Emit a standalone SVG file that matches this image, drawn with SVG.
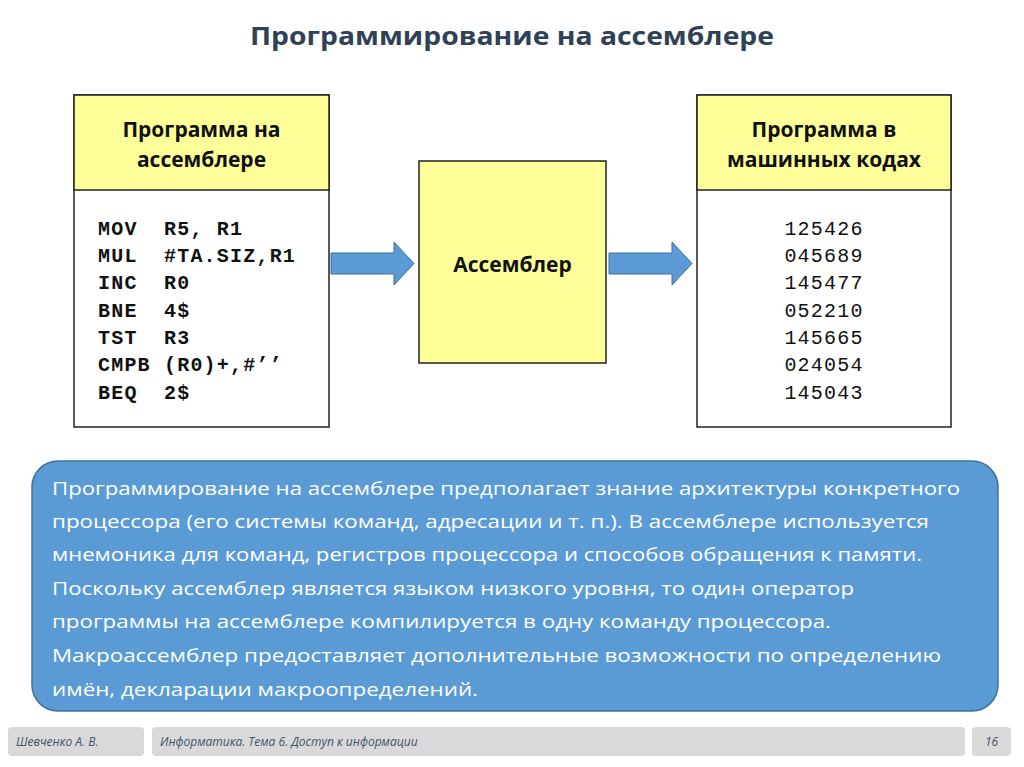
<svg xmlns="http://www.w3.org/2000/svg" width="1024" height="767" viewBox="0 0 1024 767">
<defs>
<style>
.hdr{font-family:"Open Sans","Liberation Sans",sans-serif;font-weight:bold;font-size:21px;fill:#111;text-anchor:middle}
.code{font-family:"Liberation Mono","Courier New",monospace;font-weight:bold;font-size:20px;letter-spacing:1.2px;fill:#111;white-space:pre}
.num{font-family:"Liberation Mono","Courier New",monospace;font-size:20px;letter-spacing:1.2px;fill:#111;text-anchor:middle}
.body{font-family:"Open Sans","Liberation Sans",sans-serif;font-size:19px;fill:#fff}
.foot{font-family:"Open Sans","Liberation Sans",sans-serif;font-style:italic;font-size:12px;fill:#44546A}
.frame{fill:#fff;stroke:#222;stroke-width:1.5}
.yel{fill:#FFFF99;stroke:#222;stroke-width:1.5}
.arrow{fill:#5B9BD5;stroke:#41719C;stroke-width:1}
.fbox{fill:#D9D9D9}
</style>
</defs>
<rect width="1024" height="767" fill="#fff"/>
<text x="512" y="45" text-anchor="middle" font-family="Open Sans, Liberation Sans, sans-serif" font-weight="bold" font-size="25" fill="#2F4156" textLength="524" lengthAdjust="spacingAndGlyphs">Программирование на ассемблере</text>

<g id="src">
<rect class="frame" x="74" y="95" width="255" height="332"/>
<rect class="yel" x="74" y="95" width="255" height="95"/>
<text class="hdr" x="201.5" y="137">Программа на</text>
<text class="hdr" x="201.5" y="167">ассемблере</text>
<text class="code" x="98" y="235" xml:space="preserve">MOV  R5, R1</text>
<text class="code" x="98" y="262" xml:space="preserve">MUL  #TA.SIZ,R1</text>
<text class="code" x="98" y="289" xml:space="preserve">INC  R0</text>
<text class="code" x="98" y="317" xml:space="preserve">BNE  4$</text>
<text class="code" x="98" y="344" xml:space="preserve">TST  R3</text>
<text class="code" x="98" y="371" xml:space="preserve">CMPB (R0)+,#’’</text>
<text class="code" x="98" y="399" xml:space="preserve">BEQ  2$</text>
</g>

<g id="asm">
<rect class="yel" x="419" y="161" width="187" height="202"/>
<text class="hdr" x="512.5" y="272">Ассемблер</text>
</g>

<g id="dst">
<rect class="frame" x="697" y="95" width="254" height="332"/>
<rect class="yel" x="697" y="95" width="254" height="95"/>
<text class="hdr" x="824" y="137">Программа в</text>
<text class="hdr" x="824" y="167">машинных кодах</text>
<text class="num" x="824" y="235">125426</text>
<text class="num" x="824" y="262">045689</text>
<text class="num" x="824" y="289">145477</text>
<text class="num" x="824" y="317">052210</text>
<text class="num" x="824" y="344">145665</text>
<text class="num" x="824" y="371">024054</text>
<text class="num" x="824" y="399">145043</text>
</g>

<g id="connectors">
<polygon class="arrow" points="331,253 394,253 394,242 414,263.5 394,285 394,274 331,274"/>
<polygon class="arrow" points="609,253 672,253 672,242 692,263.5 672,285 672,274 609,274"/>
</g>

<g id="note">
<rect x="32" y="461" width="966" height="250" rx="26" fill="#5B9BD5" stroke="#41719C" stroke-width="1.5"/>
<text class="body" x="52" y="495" textLength="908" lengthAdjust="spacingAndGlyphs">Программирование на ассемблере предполагает знание архитектуры конкретного</text>
<text class="body" x="52" y="528" textLength="877" lengthAdjust="spacingAndGlyphs">процессора (его системы команд, адресации и т. п.). В ассемблере используется</text>
<text class="body" x="52" y="561" textLength="870" lengthAdjust="spacingAndGlyphs">мнемоника для команд, регистров процессора и способов обращения к памяти.</text>
<text class="body" x="52" y="595" textLength="802" lengthAdjust="spacingAndGlyphs">Поскольку ассемблер является языком низкого уровня, то один оператор</text>
<text class="body" x="52" y="628" textLength="779" lengthAdjust="spacingAndGlyphs">программы на ассемблере компилируется в одну команду процессора.</text>
<text class="body" x="52" y="662" textLength="889" lengthAdjust="spacingAndGlyphs">Макроассемблер предоставляет дополнительные возможности по определению</text>
<text class="body" x="52" y="696" textLength="426" lengthAdjust="spacingAndGlyphs">имён, декларации макроопределений.</text>
</g>

<g id="footer">
<rect class="fbox" x="8" y="727" width="136" height="29" rx="4"/>
<rect class="fbox" x="152" y="727" width="813" height="29" rx="4"/>
<rect class="fbox" x="972" y="727" width="39" height="29" rx="4"/>
<text class="foot" x="16" y="746">Шевченко А. В.</text>
<text class="foot" x="160" y="746">Информатика. Тема 6. Доступ к информации</text>
<text class="foot" x="991.5" y="746" text-anchor="middle" font-style="normal">16</text>
</g>
</svg>
